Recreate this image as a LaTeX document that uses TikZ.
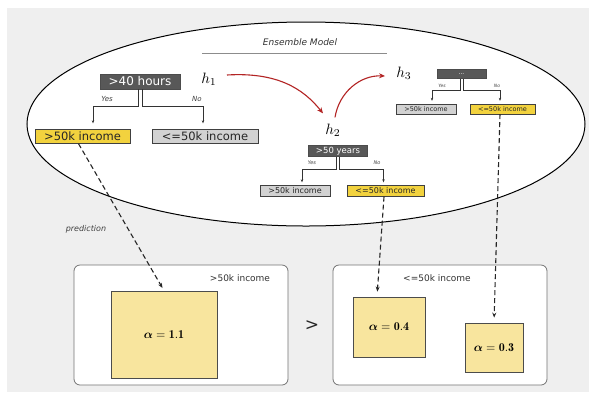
\documentclass[tikz,border=0pt]{standalone}
\usepackage{fontspec}
\setsansfont{DejaVu Sans}
\usepackage{amsmath}
\usetikzlibrary{arrows.meta,calc,shapes.geometric}
\definecolor{bgc}{HTML}{EFEFEF}
\definecolor{darkbox}{HTML}{585858}
\definecolor{graybox}{HTML}{D2D2D2}
\definecolor{yelbox}{HTML}{F2D23E}
\definecolor{sqfill}{HTML}{F8E59E}
\definecolor{redarr}{HTML}{B32424}
\newcommand{\alphaval}[1]{$\boldsymbol{\alpha} = \mathbf{#1}$}
\tikzset{
  qbox/.style={draw=black!70, fill=darkbox, text=white, inner sep=0pt, font=\sffamily},
  lbox/.style={draw=black!75, fill=graybox, text=black!85, inner sep=0pt, font=\sffamily},
  ybox/.style={draw=black!75, fill=yelbox, text=black!85, inner sep=0pt, font=\sffamily},
  brlab/.style={font=\sffamily\itshape, text=black!75, inner sep=0pt},
  tarrow/.style={draw=black!80, line width=0.6pt, -{Stealth[length=3pt,width=2.5pt]}},
  redarrow/.style={draw=redarr, line width=1.1pt, -{Stealth[length=6pt,width=5pt]}},
  predarrow/.style={draw=black!85, line width=1.1pt, dash pattern=on 5pt off 3pt, -{Stealth[length=5pt,width=4pt]}},
  alphasq/.style={draw=black!70, fill=sqfill, line width=0.8pt, inner sep=0pt},
  alphatxt/.style={inner sep=0pt, scale=1.2, transform shape},
  outbox/.style={draw=black!55, fill=white, rounded corners=6pt, line width=0.8pt},
  hlab/.style={inner sep=0pt, scale=1.5, transform shape},
}
\begin{document}
\begin{tikzpicture}[x=1pt,y=-1pt]
\useasboundingbox (0,0) rectangle (589,392);
\fill[white] (0,0) rectangle (589,392);
\fill[bgc] (7,8) rectangle (589,392);

% ensemble ellipse
\node[draw=black, fill=white, line width=1pt, ellipse, minimum width=558pt, minimum height=204pt, inner sep=0pt] (ens) at (306,124) {};
\node[brlab, font=\sffamily\itshape\fontsize{9}{10}\selectfont, text=black!80] (title) at (300,42) {Ensemble Model};
\coordinate (tl1) at (202,53);
\coordinate (tl2) at (387,53);
\draw[black!45, line width=0.8pt] (tl1) -- (tl2);

% hypotheses
\node[hlab] (h1) at (209,79) {$h_1$};
\node[hlab] (h2) at (333,130) {$h_2$};
\node[hlab] (h3) at (404,73) {$h_3$};
\draw[redarrow] ([xshift=10pt,yshift=4pt]h1.east) .. controls +(50,-3) and +(-20,-25) .. ([xshift=-10pt,yshift=10pt]h2.north);
\draw[redarrow] ([xshift=2pt,yshift=6pt]h2.north) .. controls +(4,-25) and +(-25,-1) .. ([xshift=-11pt,yshift=-3pt]h3.west);

% tree 1
\node[qbox, minimum width=80pt, minimum height=15pt, font=\sffamily\fontsize{12}{12}\selectfont] (t1) at (140,81.5) {>40 hours};
\node[ybox, minimum width=95pt, minimum height=14pt, font=\sffamily\fontsize{11.5}{12}\selectfont] (t1y) at (82.5,136.5) {>50k income};
\node[lbox, minimum width=106pt, minimum height=14pt, font=\sffamily\fontsize{11.5}{12}\selectfont] (t1n) at (205,136.5) {<=50k income};
\draw[tarrow, shorten >=6pt] ([xshift=-2pt]t1.south) -- ++(0,17) -| ([xshift=10.5pt]t1y.north);
\draw[tarrow, shorten >=6pt] ([xshift=2pt]t1.south) -- ++(0,17) -| ([xshift=-2pt]t1n.north);
\node[brlab, font=\sffamily\itshape\fontsize{7}{7}\selectfont] (t1yes) at (107,99) {Yes};
\node[brlab, font=\sffamily\itshape\fontsize{7}{7}\selectfont] (t1no) at (197,99) {No};

% tree 2
\node[qbox, minimum width=59pt, minimum height=11pt, font=\sffamily\fontsize{8.5}{9}\selectfont] (t2) at (338,151) {>50 years};
\node[lbox, minimum width=70pt, minimum height=11pt, font=\sffamily\fontsize{8}{9}\selectfont] (t2n) at (295,191) {>50k income};
\node[ybox, minimum width=77pt, minimum height=11pt, font=\sffamily\fontsize{8}{9}\selectfont] (t2y) at (385.5,191) {<=50k income};
\draw[tarrow, shorten >=3pt] ([xshift=-1.5pt]t2.south) -- ++(0,13) -| ([xshift=7pt]t2n.north);
\draw[tarrow, shorten >=3pt] ([xshift=1.5pt]t2.south) -- ++(0,13) -| ([xshift=-2pt]t2y.north);
\node[brlab, font=\sffamily\itshape\fontsize{5}{5}\selectfont] (t2yes) at (312,163) {Yes};
\node[brlab, font=\sffamily\itshape\fontsize{5}{5}\selectfont] (t2no) at (377,163) {No};

% tree 3
\node[qbox, minimum width=49pt, minimum height=9pt, font=\sffamily\fontsize{6}{6}\selectfont] (t3) at (461.5,74) {...};
\node[lbox, minimum width=60pt, minimum height=10pt, font=\sffamily\fontsize{6.5}{7}\selectfont] (t3n) at (426,109) {>50k income};
\node[ybox, minimum width=65pt, minimum height=10pt, font=\sffamily\fontsize{6.5}{7}\selectfont] (t3y) at (502.5,109) {<=50k income};
\draw[tarrow, shorten >=3pt] ([xshift=-1.5pt]t3.south) -- ++(0,12) -| ([xshift=6pt]t3n.north);
\draw[tarrow, shorten >=3pt] ([xshift=1.5pt]t3.south) -- ++(0,12) -| ([xshift=-2.5pt]t3y.north);
\node[brlab, font=\sffamily\itshape\fontsize{4.5}{5}\selectfont] (t3yes) at (442,85.5) {Yes};
\node[brlab, font=\sffamily\itshape\fontsize{4.5}{5}\selectfont] (t3no) at (497,85.5) {No};

% output boxes
\node[outbox, minimum width=214pt, minimum height=120pt, inner sep=0pt] (ob1) at (181,325) {};
\node[outbox, minimum width=214pt, minimum height=120pt, inner sep=0pt] (ob2) at (440,325) {};
\node[inner sep=0pt, font=\sffamily\fontsize{9}{10}\selectfont, text=black!80] (ob1l) at (240,278) {>50k income};
\node[inner sep=0pt, font=\sffamily\fontsize{9}{10}\selectfont, text=black!80] (ob2l) at (437,278) {<=50k income};
\node[inner sep=0pt, font=\sffamily\fontsize{17}{17}\selectfont, text=black!85] (gt) at (312,326) {>};

\node[alphasq, minimum width=106pt, minimum height=87pt] (a1) at (164,334.5) {};
\node[alphasq, minimum width=72pt, minimum height=60pt] (a2) at (389,327) {};
\node[alphasq, minimum width=58pt, minimum height=49pt] (a3) at (494,347.5) {};
\node[alphatxt] (a1t) at (a1.center) {\alphaval{1.1}};
\node[alphatxt] (a2t) at (a2.center) {\alphaval{0.4}};
\node[alphatxt] (a3t) at (a3.center) {\alphaval{0.3}};

% prediction arrows
\draw[predarrow, shorten >=3pt] ([xshift=-4pt]t1y.south) -- (a1.north);
\draw[predarrow, shorten >=5pt] ([xshift=-1.5pt]t2y.south) -- ([xshift=-12pt]a2.north);
\draw[predarrow, shorten >=5pt] ([xshift=-2.5pt]t3y.south) -- (a3.north);
\node[brlab, font=\sffamily\itshape\fontsize{8}{8}\selectfont] (pred) at (86,229) {prediction};
\end{tikzpicture}
\end{document}
